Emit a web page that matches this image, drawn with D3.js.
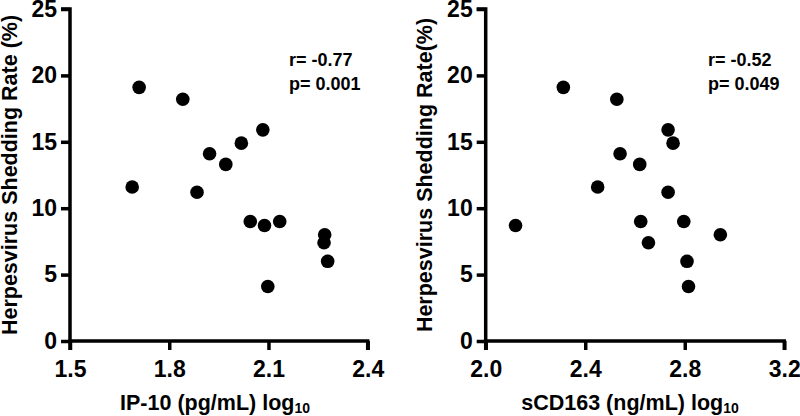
<!DOCTYPE html>
<html><head><meta charset="utf-8">
<script src="https://cdn.jsdelivr.net/npm/d3@7"></script>
<style>body{margin:0;background:#fff}svg{display:block}text{font-family:"Liberation Sans",Arial,sans-serif;font-weight:bold;fill:#000}</style>
</head><body>
<svg id="c" width="800" height="416"></svg>
<script>
// Panel A: IP-10
const ip10X = [1.709,1.841,1.688,1.884,1.922,1.971,2.018,2.083,2.045,2.088,2.134,2.270,2.268,2.279,2.098];
const ip10Y = [19.1,18.2,11.6,11.2,14.1,13.3,14.9,15.9,9.0,8.7,9.0,8.0,7.4,6.0,4.1];
const ip10Ticks = [1.5,1.8,2.1,2.4];
// Panel B: sCD163
const cd163X = [2.312,2.527,2.450,2.540,2.619,2.733,2.753,2.733,2.623,2.654,2.796,2.943,2.809,2.815,2.120];
const cd163Y = [19.1,18.2,11.6,14.1,13.3,15.9,14.9,11.2,9.0,7.4,9.0,8.0,6.0,4.1,8.7];
const cd163Ticks = [2.0,2.4,2.8,3.2];
const yTicks = [0,5,10,15,20,25];

const svg = d3.select("#c");

function panel(o){
  const g = svg.append("g");
  const x = d3.scaleLinear().domain(o.xDomain).range(o.xRange);
  const y = d3.scaleLinear().domain([0,25]).range([341,9]);
  const x0 = o.xRange[0];
  const ya = g.append("g").attr("transform",`translate(${x0},0)`)
    .call(d3.axisLeft(y).tickValues(yTicks).tickSize(9).tickPadding(4).tickFormat(d3.format("d")));
  const xa = g.append("g").attr("transform",`translate(0,341)`)
    .call(d3.axisBottom(x).tickValues(o.ticks).tickSize(9).tickPadding(11).tickFormat(d3.format(".1f")));
  [ya,xa].forEach(a=>{
    a.select(".domain").attr("stroke","#000").attr("stroke-width",3.5);
    a.selectAll(".tick line").attr("stroke","#000").attr("stroke-width",3.5);
    a.selectAll(".tick text").style("font-size","23px").style("font-family","'Liberation Sans',Arial,sans-serif").style("font-weight","bold").attr("fill","#000");
  });
  ya.select(".domain").attr("d",`M-9,${y(25)}H0V${y(0)}`);
  xa.select(".domain").attr("d",`M${x.range()[0]},9V0H${x.range()[1]}V9`);
  g.selectAll("circle").data(o.xs).join("circle")
    .attr("cx",(d)=>x(d)).attr("cy",(d,i)=>y(o.ys[i])).attr("r",6.8).attr("fill","#000");
  const xt = g.append("text").attr("x",o.xTitleX).attr("y",410).attr("text-anchor","middle").style("font-size","21.5px");
  xt.append("tspan").text(o.xTitle);
  xt.append("tspan").text("10").style("font-size","14px").attr("dy",3);
  g.append("text").attr("transform",`translate(${o.yTitleX},175) rotate(-90)`).attr("text-anchor","middle")
    .style("font-size","21.5px").text(o.yTitle);
  g.append("text").attr("x",o.annX).attr("y",66).style("font-size","18px").text(o.r);
  g.append("text").attr("x",o.annX).attr("y",90).style("font-size","18px").text(o.p);
}

panel({xDomain:[1.5,2.4], xRange:[70,367.7], ticks:ip10Ticks, xs:ip10X, ys:ip10Y,
  xTitle:"IP-10 (pg/mL) log", xTitleX:215, yTitle:"Herpesvirus Shedding Rate (%)", yTitleX:17,
  annX:289, r:"r= -0.77", p:"p= 0.001"});
panel({xDomain:[2.0,3.2], xRange:[485.7,784.3], ticks:cd163Ticks, xs:cd163X, ys:cd163Y,
  xTitle:"sCD163 (ng/mL) log", xTitleX:630, yTitle:"Herpesvirus Shedding Rate(%)", yTitleX:432,
  annX:708, r:"r= -0.52", p:"p= 0.049"});
</script>
</body></html>
